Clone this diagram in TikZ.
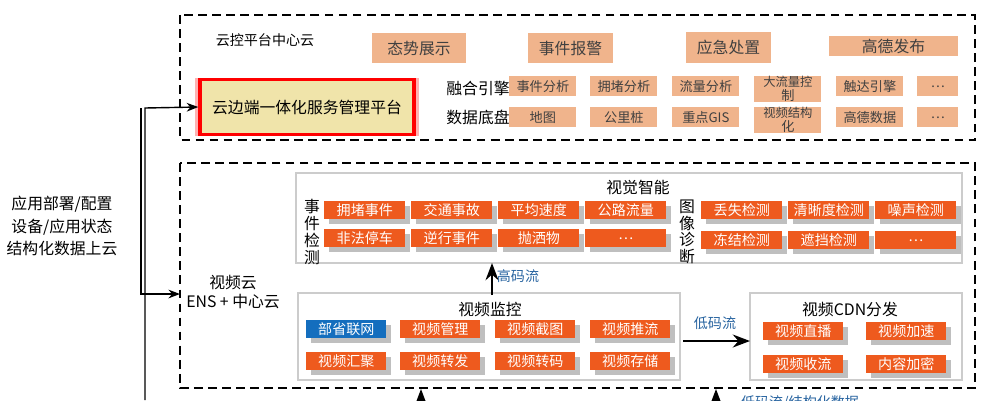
\documentclass[tikz,border=0pt]{standalone}
\usepackage{fontspec}
\setmainfont{Noto Sans CJK SC}
\usetikzlibrary{arrows.meta}
\definecolor{tan}{RGB}{240,180,140}
\definecolor{orng}{RGB}{238,90,30}
\definecolor{blu}{RGB}{20,110,190}
\definecolor{cyel}{RGB}{240,228,170}
\definecolor{txtblu}{RGB}{40,100,160}
\tikzset{
  cloud/.style={draw, dashed, line width=1.2pt, dash pattern=on 5pt off 3pt},
  panel/.style={draw=gray!40, line width=1pt},
  tanbox/.style={fill=tan, inner sep=0pt, font=\fontsize{7.5}{8}\selectfont, text=black!75, align=center},
  obox/.style={fill=orng, inner sep=0pt, text=white, font=\fontsize{8}{9}\selectfont, drop shadow},
  lbl/.style={font=\fontsize{8}{10}\selectfont},
}
\usetikzlibrary{shadows}
\begin{document}
\begin{tikzpicture}[x=0.02cm, y=-0.02cm, >=Stealth]
    \useasboundingbox (0,0) rectangle (994,400);
    % clouds
    \draw[cloud] (180,15) rectangle (975,140);
    \draw[cloud] (180,163) rectangle (975,388);
    \node[lbl] (title) at (265,40) {云控平台中心云};
    % top row
    \foreach \xa/\xb/\ya/\yb/\t in {372/466/33/63/态势展示, 528/613/33/63/事件报警,
        686/771/32/63/应急处置, 829/958/36/56/高德发布}
        \node[tanbox, minimum width=(\xb-\xa)*0.02cm, minimum height=(\yb-\ya)*0.02cm,
            font=\fontsize{9}{10}\selectfont] at ({(\xa+\xb)/2},{(\ya+\yb)/2}) {\t};
    % platform
    \node[draw=red, line width=2pt, fill=cyel, minimum width=4.28cm, minimum height=1.1cm,
        font=\fontsize{9}{10}\selectfont, drop shadow={color=red!60, shadow xshift=0pt, shadow yshift=0pt, shadow scale=1.05}]
        (plat) at (307,107) {云边端一体化服务管理平台};
    \node[lbl, font=\fontsize{9}{10}\selectfont] (engine) at (478,88) {融合引擎};
    \node[lbl, font=\fontsize{9}{10}\selectfont] (base) at (478,117) {数据底盘};
    \foreach \x/\t [count=\i] in {509/事件分析, 590/拥堵分析, 672/流量分析, 754/{\fontsize{7}{7}\selectfont 大流量控\\制}, 836/触达引擎, 917/…}
        \node[tanbox, minimum width={(\i==6 ? 41 : 67)*0.02cm}, minimum height=0.4cm, anchor=north west] at (\x,76) {\t};
    \foreach \x/\t [count=\i] in {509/地图, 590/公里桩, 672/重点GIS, 754/{\fontsize{7}{7}\selectfont 视频结构\\化}, 836/高德数据, 917/…}
        \node[tanbox, minimum width={(\i==6 ? 41 : 67)*0.02cm}, minimum height=0.4cm, anchor=north west] at (\x,107) {\t};
    % video cloud
    \node[lbl, align=center, font=\fontsize{9}{11}\selectfont] (vcloud) at (233,292) {视频云\\ENS + 中心云};
    \draw[panel] (296,173) rectangle (962,263);
    \node[lbl, font=\fontsize{9}{10}\selectfont] (vi) at (638,187) {视觉智能};
    \node[lbl, align=center, font=\fontsize{9}{9.5}\selectfont] (evt) at (312,232) {事\\件\\检\\测};
    \node[lbl, align=center, font=\fontsize{9}{9.5}\selectfont] (diag) at (687,232) {图\\像\\诊\\断};
    \foreach \x/\t in {324/拥堵事件, 411/交通事故, 498/平均速度, 585/公路流量}
        \node[obox, minimum width=1.62cm, minimum height=0.36cm, anchor=north west] at (\x,201) {\t};
    \foreach \x/\t in {324/非法停车, 411/逆行事件, 498/抛洒物, 585/…}
        \node[obox, minimum width=1.62cm, minimum height=0.36cm, anchor=north west] at (\x,229) {\t};
    \foreach \x/\t in {701/丢失检测, 788/清晰度检测, 875/噪声检测}
        \node[obox, minimum width=1.62cm, minimum height=0.36cm, anchor=north west] at (\x,201) {\t};
    \foreach \x/\t in {701/冻结检测, 788/遮挡检测, 875/…}
        \node[obox, minimum width=1.62cm, minimum height=0.36cm, anchor=north west] at (\x,231) {\t};
    % monitoring
    \draw[panel] (298,293) rectangle (680,380);
    \node[lbl, font=\fontsize{9}{10}\selectfont] (mon) at (490,309) {视频监控};
    \node[obox, fill=blu, minimum width=1.6cm, minimum height=0.36cm, anchor=north west] at (306,320) {部省联网};
    \foreach \x/\t in {400/视频管理, 495/视频截图, 590/视频推流}
        \node[obox, minimum width=1.6cm, minimum height=0.36cm, anchor=north west] at (\x,320) {\t};
    \foreach \x/\t in {306/视频汇聚, 400/视频转发, 495/视频转码, 590/视频存储}
        \node[obox, minimum width=1.6cm, minimum height=0.36cm, anchor=north west] at (\x,352) {\t};
    % CDN
    \draw[panel] (750,293) rectangle (962,380);
    \node[lbl, font=\fontsize{9}{10}\selectfont] (cdn) at (850,309) {视频CDN分发};
    \foreach \x/\y/\t in {763/322/视频直播, 866/322/视频加速, 763/355/视频收流, 866/355/内容加密}
        \node[obox, minimum width=1.6cm, minimum height=0.36cm, anchor=north west] at (\x,\y) {\t};
    % flows
    \draw[->, line width=1.5pt] (492,295) -- (492,263);
    \node[lbl, text=txtblu] (hi) at (518,276) {高码流};
    \draw[->, line width=1.5pt] (683,341) -- (750,341);
    \node[lbl, text=txtblu] (lo) at (715,323) {低码流};
    \draw[->, line width=1.5pt] (421,400) -- (421,389);
    \draw[->, line width=1.5pt] (716,400) -- (716,389);
    \node[lbl, text=txtblu, anchor=north] (lo2) at (800,389) {低码流/结构化数据};
    % left side
    \node[lbl, align=center, font=\fontsize{9}{13}\selectfont] (apps) at (62,226) {应用部署/配置\\设备/应用状态\\结构化数据上云};
    \draw[->, thick] (145,400) -- (145,108) -- (plat.west);
    \draw[->, thick] (141,108) -- (141,294) -- (180,294);
\end{tikzpicture}
\end{document}
